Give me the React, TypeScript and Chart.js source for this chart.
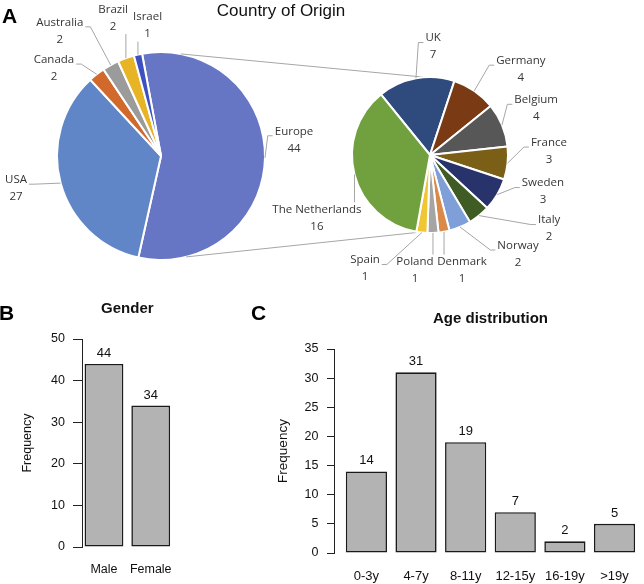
import React, { useEffect, useRef } from 'react';
import { Chart, registerables } from 'chart.js';

Chart.register(...registerables);

// ---------------- data ----------------
const regionLabels = ['Europe', 'USA', 'Canada', 'Australia', 'Brazil', 'Israel'];
const regionValues = [44, 27, 2, 2, 2, 1];
const regionColors = ['#6675C4', '#6186C7', '#D0692B', '#9B9B9B', '#E7B425', '#3C50C0'];

const europeLabels = ['UK', 'Germany', 'Belgium', 'France', 'Sweden', 'Italy', 'Norway', 'Denmark', 'Poland', 'Spain', 'The Netherlands'];
const europeValues = [7, 4, 4, 3, 3, 2, 2, 1, 1, 1, 16];
const europeColors = ['#2F4A7C', '#7A3A14', '#575757', '#7B5F17', '#28326B', '#3F5C24', '#7F9FD8', '#D98A4B', '#A5A5A5', '#F1C634', '#71A03F'];

const genderLabels = ['Male', 'Female'];
const genderValues = [44, 34];

const ageLabels = ['0-3y', '4-7y', '8-11y', '12-15y', '16-19y', '>19y'];
const ageValues = [14, 31, 19, 7, 2, 5];

// ---------------- styling / layout ----------------
const PIE_FONT = '"Open Sans", "Noto Sans", sans-serif';
const R_FONT = '"Liberation Sans", Arial, sans-serif';

// label placement around each slice: [distance beyond radius, angle nudge in degrees]
const regionLabelPlacement = [[30, -8], [44.5, 2.6], [34.5, -12.4], [57, -10], [42, 0.6], [27, 6.9]];
const europeLabelPlacement = [[30.5, 12], [47, 12], [38, -1.1], [41, -7.9], [40.7, -12.6], [62, -19.3], [54.5, -19], [42, -5.1], [38.5, 9.6], [52.8, 23.8], [51.6, -14.8]];

// connector angles (clockwise from top) on main and secondary pie
const connectorAngles = { mainTop: 11, mainBottom: 166, subTop: -4, subBottom: 188 };

function makePieLabelPlugin(placement: number[][]) {
  return {
    id: 'pieLabels',
    afterDatasetsDraw(chart: any) {
      const ctx = chart.ctx;
      const meta = chart.getDatasetMeta(0);
      const labels = chart.data.labels;
      const values = chart.data.datasets[0].data;
      ctx.save();
      ctx.font = `11.5px ${PIE_FONT}`;
      ctx.textAlign = 'center';
      ctx.textBaseline = 'middle';
      meta.data.forEach((arc: any, i: number) => {
        const { x, y, startAngle, endAngle, outerRadius } = arc.getProps(['x', 'y', 'startAngle', 'endAngle', 'outerRadius'], true);
        const mid = (startAngle + endAngle) / 2;
        const [extra, nudge] = placement[i];
        const la = mid + (nudge * Math.PI) / 180;
        const cx = x + Math.cos(la) * (outerRadius + extra);
        const cy = y + Math.sin(la) * (outerRadius + extra);
        const l1 = String(labels[i]);
        const l2 = String(values[i]);
        const w = Math.max(ctx.measureText(l1).width, ctx.measureText(l2).width);
        const bx0 = cx - w / 2;
        const bx1 = cx + w / 2;
        const by0 = cy - 15;
        const by1 = cy + 15;
        const ax = x + Math.cos(mid) * outerRadius;
        const ay = y + Math.sin(mid) * outerRadius;
        ctx.strokeStyle = '#A6A6A6';
        ctx.lineWidth = 1;
        ctx.beginPath();
        ctx.moveTo(ax, ay);
        const ty = cy - 4;
        if (ax < bx0 - 3) {
          ctx.lineTo(bx0 - 7, ty);
          ctx.lineTo(bx0 - 2, ty);
        } else if (ax > bx1 + 3) {
          ctx.lineTo(bx1 + 7, ty);
          ctx.lineTo(bx1 + 2, ty);
        } else if (ay < by0) {
          ctx.lineTo(ax, by0 - 1);
        } else {
          ctx.lineTo(ax, by1 + 1);
        }
        ctx.stroke();
        ctx.fillStyle = '#363636';
        ctx.fillText(l1, cx, cy - 8.5);
        ctx.fillText(l2, cx, cy + 8.5);
      });
      ctx.restore();
    },
  };
}

function makeConnectorPlugin(getMain: () => any) {
  return {
    id: 'connectors',
    beforeDatasetsDraw(chart: any) {
      const main = getMain();
      if (!main) return;
      const m = main.getDatasetMeta(0).data[0];
      const s = chart.getDatasetMeta(0).data[0];
      const pt = (arc: any, deg: number) => {
        const a = (deg * Math.PI) / 180;
        return [arc.x + arc.outerRadius * Math.sin(a), arc.y - arc.outerRadius * Math.cos(a)];
      };
      const ctx = chart.ctx;
      ctx.save();
      ctx.strokeStyle = '#A6A6A6';
      ctx.lineWidth = 1;
      const a1 = pt(m, connectorAngles.mainTop);
      const b1 = pt(s, connectorAngles.subTop);
      const a2 = pt(m, connectorAngles.mainBottom);
      const b2 = pt(s, connectorAngles.subBottom);
      ctx.beginPath();
      ctx.moveTo(a1[0], a1[1]);
      ctx.lineTo(b1[0], b1[1]);
      ctx.moveTo(a2[0], a2[1]);
      ctx.lineTo(b2[0], b2[1]);
      ctx.stroke();
      ctx.restore();
    },
  };
}

const barExtras = {
  id: 'barExtras',
  afterDatasetsDraw(chart: any, _args: any, opts: any) {
    const ctx = chart.ctx;
    const meta = chart.getDatasetMeta(0);
    const vals = chart.data.datasets[0].data;
    ctx.save();
    ctx.fillStyle = '#111';
    ctx.textAlign = 'center';
    ctx.textBaseline = 'middle';
    ctx.font = `${opts.valueFont}px ${R_FONT}`;
    meta.data.forEach((bar: any, i: number) => {
      ctx.fillText(String(vals[i].y), bar.x, bar.y - opts.valueGap);
    });
    const first = meta.data[0];
    const last = meta.data[meta.data.length - 1];
    ctx.font = `bold ${opts.titleFont}px ${R_FONT}`;
    ctx.fillText(opts.title, (first.x + last.x) / 2, chart.chartArea.top - opts.titleGap);
    ctx.restore();
  },
};

type BarSpec = {
  title: string;
  labels: string[];
  values: number[];
  yMax: number;
  yStep: number;
  xMin: number;
  xMax: number;
  padTop: number;
  padRight: number;
  yWidth: number;
  xHeight: number;
  tickFont: number;
  tickLen: number;
  tickPad: number;
  xFont: number;
  xPad: number;
  yTitleFont: number;
  yTitlePad: number;
  valueFont: number;
};

function barConfig(spec: BarSpec): any {
  return {
    type: 'bar',
    data: {
      datasets: [
        {
          data: spec.values.map((v, i) => ({ x: i, y: v })),
          backgroundColor: '#B3B3B3',
          borderColor: '#1A1A1A',
          borderWidth: 1.6,
          borderSkipped: false,
          barPercentage: 0.83,
          categoryPercentage: 1,
        },
      ],
    },
    options: {
      responsive: false,
      animation: false,
      events: [],
      layout: { padding: { top: spec.padTop, left: 0, right: spec.padRight, bottom: 0 } },
      plugins: {
        legend: { display: false },
        tooltip: { enabled: false },
        barExtras: { title: spec.title, titleFont: 15, titleGap: 30.5, valueFont: spec.valueFont, valueGap: 10.5 },
      },
      scales: {
        x: {
          type: 'linear',
          min: spec.xMin,
          max: spec.xMax,
          offset: false,
          bounds: 'data',
          grace: 0,
          afterBuildTicks: (s: any) => {
            s.ticks = spec.labels.map((_, i) => ({ value: i }));
          },
          afterFit: (s: any) => {
            s.height = spec.xHeight;
          },
          grid: { display: false, drawTicks: false, offset: false },
          border: { display: false },
          ticks: {
            callback: (v: any) => spec.labels[v] ?? '',
            font: { family: R_FONT, size: spec.xFont },
            color: '#111',
            padding: spec.xPad,
            maxRotation: 0,
            autoSkip: false,
          },
        },
        y: {
          type: 'linear',
          min: 0,
          max: spec.yMax,
          afterFit: (s: any) => {
            s.width = spec.yWidth;
          },
          ticks: {
            stepSize: spec.yStep,
            font: { family: R_FONT, size: spec.tickFont },
            color: '#111',
            padding: spec.tickPad,
          },
          grid: { drawOnChartArea: false, drawTicks: true, tickLength: spec.tickLen, color: '#222', lineWidth: 1 },
          border: { display: true, color: '#222', width: 1 },
          title: {
            display: true,
            text: 'Frequency',
            font: { family: R_FONT, size: spec.yTitleFont },
            color: '#111',
            padding: { top: spec.yTitlePad, bottom: 0 },
          },
        },
      },
    },
    plugins: [barExtras],
  };
}

export default function App() {
  const mainRef = useRef<HTMLCanvasElement>(null);
  const subRef = useRef<HTMLCanvasElement>(null);
  const genderRef = useRef<HTMLCanvasElement>(null);
  const ageRef = useRef<HTMLCanvasElement>(null);

  useEffect(() => {
    const charts: Chart[] = [];
    const main = new Chart(mainRef.current as HTMLCanvasElement, {
      type: 'pie',
      data: {
        labels: regionLabels,
        datasets: [{ data: regionValues, backgroundColor: regionColors, borderColor: '#ffffff', borderWidth: 2 }],
      },
      options: {
        responsive: false,
        animation: false,
        events: [],
        rotation: -10.5,
        radius: 104,
        layout: { padding: { left: 56, top: 51, right: 378, bottom: 31 } },
        plugins: { legend: { display: false }, tooltip: { enabled: false } },
      } as any,
      plugins: [makePieLabelPlugin(regionLabelPlacement)] as any,
    });
    charts.push(main);

    const sub = new Chart(subRef.current as HTMLCanvasElement, {
      type: 'pie',
      data: {
        labels: europeLabels,
        datasets: [{ data: europeValues, backgroundColor: europeColors, borderColor: '#ffffff', borderWidth: 2 }],
      },
      options: {
        responsive: false,
        animation: false,
        events: [],
        rotation: -39,
        radius: 78,
        layout: { padding: { left: 352, top: 77, right: 136, bottom: 59 } },
        plugins: { legend: { display: false }, tooltip: { enabled: false } },
      } as any,
      plugins: [makeConnectorPlugin(() => main), makePieLabelPlugin(europeLabelPlacement)] as any,
    });
    charts.push(sub);

    charts.push(
      new Chart(
        genderRef.current as HTMLCanvasElement,
        barConfig({
          title: 'Gender',
          labels: genderLabels,
          values: genderValues,
          yMax: 50,
          yStep: 10,
          xMin: -0.47,
          xMax: 1.84,
          padTop: 47,
          padRight: 60,
          yWidth: 82,
          xHeight: 37,
          tickFont: 12.5,
          tickLen: 9,
          tickPad: 8,
          xFont: 12.5,
          xPad: 15.5,
          yTitleFont: 12.5,
          yTitlePad: 20.5,
          valueFont: 13,
        })
      )
    );

    charts.push(
      new Chart(
        ageRef.current as HTMLCanvasElement,
        barConfig({
          title: 'Age distribution',
          labels: ageLabels,
          values: ageValues,
          yMax: 35,
          yStep: 5,
          xMin: -0.653,
          xMax: 5.485,
          padTop: 57,
          padRight: 0,
          yWidth: 84,
          xHeight: 31,
          tickFont: 12.5,
          tickLen: 7,
          tickPad: 8.5,
          xFont: 13,
          xPad: 15.2,
          yTitleFont: 13.5,
          yTitlePad: 24.9,
          valueFont: 13,
        })
      )
    );

    return () => {
      charts.forEach((c) => c.destroy());
    };
  }, []);

  const letter: React.CSSProperties = {
    position: 'absolute',
    fontFamily: R_FONT,
    fontWeight: 'bold',
    fontSize: 21,
    lineHeight: '21px',
    color: '#000',
  };

  return (
    <div style={{ position: 'absolute', left: 0, top: 0, width: 644, height: 584, background: '#fff', overflow: 'hidden' }}>
      <canvas ref={mainRef} width={644} height={292} style={{ position: 'absolute', left: 0, top: 0, width: 644, height: 292 }} />
      <canvas ref={subRef} width={644} height={292} style={{ position: 'absolute', left: 0, top: 0, width: 644, height: 292 }} />
      <canvas ref={genderRef} width={250} height={292} style={{ position: 'absolute', left: 0, top: 292, width: 250, height: 292 }} />
      <canvas ref={ageRef} width={394} height={292} style={{ position: 'absolute', left: 250, top: 292, width: 394, height: 292 }} />
      <div
        style={{
          position: 'absolute',
          left: 131,
          top: 1,
          width: 300,
          textAlign: 'center',
          fontFamily: R_FONT,
          fontSize: 17,
          lineHeight: '20px',
          color: '#111',
        }}
      >
        Country of Origin
      </div>
      <div style={{ ...letter, left: 2, top: 4.5 }}>A</div>
      <div style={{ ...letter, left: -1, top: 301.5 }}>B</div>
      <div style={{ ...letter, left: 251, top: 301.5 }}>C</div>
    </div>
  );
}
